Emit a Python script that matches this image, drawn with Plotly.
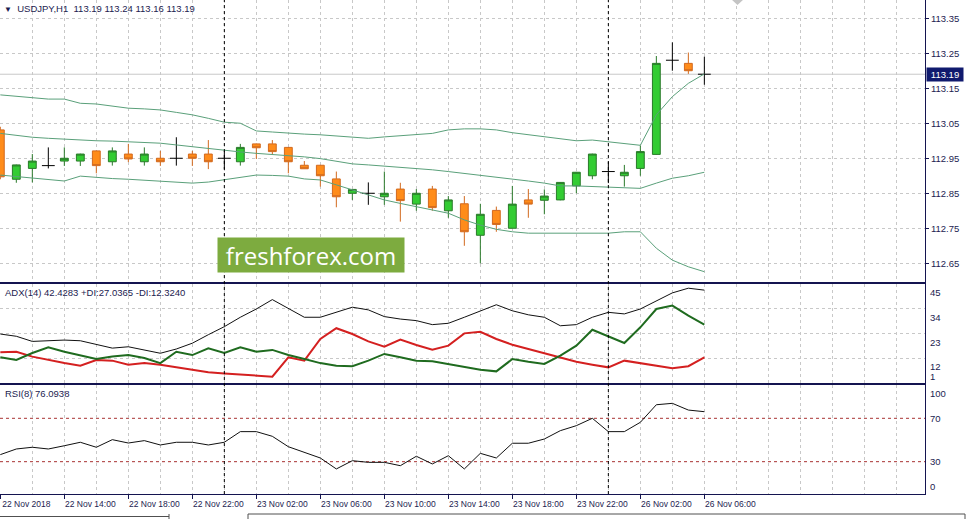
import plotly.graph_objects as go

# ---------------- data ----------------
days = [("22 Nov", 10, 23), ("23 Nov", 0, 23), ("26 Nov", 0, 6)]
bar_time = [f"{d} {h:02d}:00" for d, h0, h1 in days for h in range(h0, h1 + 1)]
bar_day = [d for d, h0, h1 in days for h in range(h0, h1 + 1)]
idx = list(range(len(bar_time)))

opens = [113.031, 112.890, 112.921, 112.929, 112.942, 112.942, 112.971, 112.940, 112.962, 112.940,
         112.950, 112.950, 112.962, 112.962, 112.950, 112.940, 112.991, 112.991, 112.981, 112.930,
         112.930, 112.891, 112.850, 112.850, 112.840, 112.862, 112.819, 112.862, 112.800, 112.820,
         112.730, 112.801, 112.750, 112.831, 112.830, 112.831, 112.871, 112.900, 112.912, 112.900,
         112.921, 112.961, 113.230, 113.221, 113.190]
highs = [113.040, 112.932, 112.962, 112.981, 112.981, 112.963, 112.972, 112.981, 112.991, 112.981,
         112.971, 113.010, 112.971, 113.002, 112.971, 112.991, 112.992, 113.002, 112.982, 112.942,
         112.931, 112.912, 112.862, 112.881, 112.912, 112.880, 112.862, 112.871, 112.842, 112.842,
         112.820, 112.812, 112.871, 112.862, 112.861, 112.882, 112.911, 112.963, 112.940, 112.931,
         112.986, 113.242, 113.281, 113.252, 113.240]
lows = [112.890, 112.880, 112.881, 112.921, 112.928, 112.928, 112.907, 112.929, 112.939, 112.929,
        112.928, 112.929, 112.928, 112.919, 112.919, 112.929, 112.948, 112.962, 112.907, 112.920,
        112.869, 112.810, 112.831, 112.817, 112.817, 112.769, 112.800, 112.800, 112.780, 112.700,
        112.650, 112.740, 112.750, 112.780, 112.790, 112.830, 112.850, 112.890, 112.879, 112.869,
        112.900, 112.960, 113.200, 113.191, 113.160]
closes = [112.897, 112.931, 112.942, 112.929, 112.950, 112.962, 112.929, 112.971, 112.948, 112.962,
          112.940, 112.950, 112.950, 112.940, 112.950, 112.981, 112.980, 112.969, 112.940, 112.920,
          112.900, 112.840, 112.861, 112.850, 112.850, 112.829, 112.850, 112.809, 112.831, 112.740,
          112.790, 112.761, 112.819, 112.819, 112.842, 112.881, 112.910, 112.962, 112.912, 112.910,
          112.969, 113.221, 113.230, 113.200, 113.190]

bb_upper = [113.131, 113.127, 113.121, 113.119, 113.119, 113.107, 113.105, 113.099, 113.093, 113.091,
            113.088, 113.081, 113.074, 113.064, 113.053, 113.050, 113.028, 113.025, 113.021, 113.019,
            113.017, 113.014, 113.010, 113.007, 113.011, 113.015, 113.018, 113.021, 113.031, 113.034,
            113.034, 113.031, 113.023, 113.017, 113.010, 113.005, 113.000, 113.002, 112.997, 112.994,
            112.987, 113.074, 113.126, 113.164, 113.191]
bb_middle = [113.021, 113.015, 113.010, 113.007, 113.004, 113.002, 113.000, 112.999, 112.997, 112.995,
             112.993, 112.988, 112.983, 112.977, 112.971, 112.968, 112.964, 112.961, 112.957, 112.954,
             112.949, 112.942, 112.934, 112.931, 112.928, 112.925, 112.921, 112.917, 112.912, 112.907,
             112.902, 112.897, 112.891, 112.885, 112.879, 112.871, 112.871, 112.869, 112.867, 112.864,
             112.864, 112.879, 112.893, 112.900, 112.910]
bb_lower = [112.902, 112.898, 112.895, 112.889, 112.885, 112.899, 112.895, 112.892, 112.890, 112.887,
            112.883, 112.881, 112.879, 112.882, 112.888, 112.895, 112.902, 112.901, 112.899, 112.891,
            112.888, 112.874, 112.859, 112.845, 112.831, 112.821, 112.812, 112.802, 112.793, 112.774,
            112.759, 112.747, 112.740, 112.736, 112.736, 112.736, 112.736, 112.736, 112.736, 112.740,
            112.740, 112.693, 112.659, 112.640, 112.626]

adx = [22.8, 21.8, 19.5, 19.8, 20.1, 19.8, 18.0, 16.5, 17.1, 15.8, 14.2, 16.1, 18.7, 22.5, 26.1,
       30.3, 34.0, 38.2, 34.3, 30.3, 30.3, 32.5, 34.8, 33.6, 30.6, 29.5, 28.8, 27.0, 27.6, 30.3,
       33.2, 35.9, 33.2, 31.4, 30.3, 26.5, 27.0, 30.3, 32.5, 31.8, 34.0, 37.7, 41.2, 43.3, 42.4283]
plus_di = [12.4, 11.2, 14.3, 16.9, 14.9, 13.1, 11.6, 12.8, 13.4, 12.1, 9.8, 14.9, 13.4, 16.4, 14.3,
           16.9, 14.9, 15.7, 13.4, 11.6, 9.8, 8.6, 8.4, 10.9, 13.9, 12.4, 10.9, 10.6, 9.4, 8.2,
           6.8, 6.1, 11.6, 10.4, 9.4, 13.1, 17.6, 24.7, 21.8, 18.8, 25.8, 34.0, 35.5, 31.0, 27.0365]
minus_di = [14.6, 14.9, 12.7, 11.2, 9.8, 8.6, 11.2, 10.9, 9.1, 9.8, 9.1, 7.9, 6.8, 5.7, 5.2,
            4.6, 4.0, 3.7, 12.4, 10.9, 20.6, 25.4, 22.8, 19.5, 17.1, 20.3, 17.9, 15.8, 17.6, 23.1,
            23.8, 20.6, 18.0, 16.1, 14.2, 12.1, 10.4, 9.1, 7.9, 10.9, 9.8, 8.6, 7.5, 8.4, 12.3240]
rsi = [36.5, 41.7, 43.3, 41.7, 44.7, 47.9, 43.3, 50.3, 47.2, 49.4, 45.4, 47.9, 47.9, 45.4, 47.9,
       57.7, 57.7, 53.4, 43.8, 38.7, 33.4, 23.3, 30.9, 29.4, 29.4, 26.3, 35.0, 27.9, 35.5, 23.3,
       37.7, 33.4, 47.0, 47.0, 50.9, 58.6, 63.2, 70.0, 57.7, 57.7, 66.3, 82.5, 83.8, 77.6, 76.0938]
rsi_levels = [70, 30]

price_ticks = [112.65, 112.75, 112.85, 112.95, 113.05, 113.15, 113.25, 113.35]
adx_grid = [12, 23, 34]
adx_labels = [45, 34, 23, 12, 1]
rsi_labels = [100, 70, 30, 0]
time_tick_idx = [0, 4, 8, 12, 16, 20, 24, 28, 32, 36, 40, 44]
time_tick_labels = ["22 Nov 2018", "22 Nov 14:00", "22 Nov 18:00", "22 Nov 22:00", "23 Nov 02:00",
                    "23 Nov 06:00", "23 Nov 10:00", "23 Nov 14:00", "23 Nov 18:00", "23 Nov 22:00",
                    "26 Nov 02:00", "26 Nov 06:00"]

# ---------------- style ----------------
FONT = "Liberation Sans, Arial, sans-serif"
AXC = "#1c1c50"
FRAME = "#141450"
GRID = "#c8c8c8"
BULL_FILL, BULL_LINE = "#33cc33", "#2a7a2a"
BEAR_FILL, BEAR_LINE = "#ff8c1a", "#d2691e"
BB_COL = "#5aa07a"
NAVY_TAG = "#101a6e"

W, H = 967, 519
R_PX, B_PX = 42, 25
PLOT_W, PLOT_H = W - R_PX, H - B_PX
dom_main = [1 - 281.5 / PLOT_H, 1]
dom_adx = [1 - 383 / PLOT_H, 1 - 283.5 / PLOT_H]
dom_rsi = [0, 1 - 385 / PLOT_H]
XR = [-0.02, 57.79]

fig = go.Figure()

# candles (non-doji)
is_doji = [o == c for o, c in zip(opens, closes)]
fig.add_trace(go.Candlestick(
    x=idx,
    open=[None if d else v for v, d in zip(opens, is_doji)],
    high=[None if d else v for v, d in zip(highs, is_doji)],
    low=[None if d else v for v, d in zip(lows, is_doji)],
    close=[None if d else v for v, d in zip(closes, is_doji)],
    increasing=dict(line=dict(color=BULL_LINE, width=1), fillcolor=BULL_FILL),
    decreasing=dict(line=dict(color=BEAR_LINE, width=1), fillcolor=BEAR_FILL),
    whiskerwidth=0, showlegend=False, hoverinfo="skip", xaxis="x", yaxis="y"))

# doji crosses
dx, dy = [], []
for i, d in enumerate(is_doji):
    if d:
        dx += [i - 0.4, i + 0.4, None, i, i, None]
        dy += [opens[i], opens[i], None, highs[i], lows[i], None]
fig.add_trace(go.Scatter(x=dx, y=dy, mode="lines", line=dict(color="black", width=1),
                         showlegend=False, hoverinfo="skip", xaxis="x", yaxis="y"))

for band in (bb_upper, bb_middle, bb_lower):
    fig.add_trace(go.Scatter(x=idx, y=band, mode="lines", line=dict(color=BB_COL, width=1),
                             showlegend=False, hoverinfo="skip", xaxis="x", yaxis="y"))

# ADX panel
fig.add_trace(go.Scatter(x=idx, y=adx, mode="lines", line=dict(color="#101010", width=1),
                         showlegend=False, hoverinfo="skip", xaxis="x2", yaxis="y2"))
fig.add_trace(go.Scatter(x=idx, y=minus_di, mode="lines", line=dict(color="#d42020", width=2),
                         showlegend=False, hoverinfo="skip", xaxis="x2", yaxis="y2"))
fig.add_trace(go.Scatter(x=idx, y=plus_di, mode="lines", line=dict(color="#1f6b1f", width=2),
                         showlegend=False, hoverinfo="skip", xaxis="x2", yaxis="y2"))

# RSI panel
fig.add_trace(go.Scatter(x=idx, y=rsi, mode="lines", line=dict(color="#101010", width=1),
                         showlegend=False, hoverinfo="skip", xaxis="x3", yaxis="y3"))

shapes = []
for lv in rsi_levels:
    shapes.append(dict(type="line", xref="x3 domain", x0=0, x1=1, yref="y3", y0=lv, y1=lv,
                       line=dict(color="#a83232", width=1, dash="3px,3px"), layer="below"))
# current price line
shapes.append(dict(type="line", xref="x domain", x0=0, x1=1, yref="y", y0=closes[-1], y1=closes[-1],
                   line=dict(color="#c8c8c8", width=1), layer="below"))
# day separators
for i in range(1, len(bar_day)):
    if bar_day[i] != bar_day[i - 1]:
        shapes.append(dict(type="line", xref="x", x0=i, x1=i, yref="paper", y0=0, y1=1,
                           line=dict(color="black", width=1, dash="3px,3px")))


def px_x(p):
    return p / PLOT_W


def px_y(p):
    return (PLOT_H - p) / PLOT_H


# bottom tab strip
for (x0, y0, x1, y1) in [(0, 516.5, 169, 516.5), (169, 514, 169, 519), (248, 514, 248, 519),
                         (248, 514, 965, 514), (965, 514, 965, 519)]:
    shapes.append(dict(type="line", xref="paper", yref="paper", x0=px_x(x0), x1=px_x(x1),
                       y0=px_y(y0), y1=px_y(y1), line=dict(color="#505050", width=1)))
# chart-shift marker at the top
shapes.append(dict(type="path", xref="paper", yref="paper",
                   path=f"M {px_x(731)} {px_y(-1)} L {px_x(744)} {px_y(-1)} L {px_x(737.5)} {px_y(5)} Z",
                   fillcolor="#c4c4c4", line=dict(width=0)))

fnt = dict(family=FONT, size=9.5, color=AXC)
ann = []
ohlc_txt = f"{opens[-1]:.2f} {highs[-1]:.2f} {lows[-1]:.2f} {closes[-1]:.2f}"
ann.append(dict(xref="paper", yref="paper", x=0, y=1, xanchor="left", yanchor="top", xshift=2, yshift=-1,
                text=f"<span style='font-size:8px'>▼</span>\u00a0\u00a0USDJPY,H1\u00a0\u00a0{ohlc_txt}",
                showarrow=False, font=fnt))
ann.append(dict(xref="paper", yref="paper", x=0, y=dom_adx[1], xanchor="left", yanchor="top", xshift=3,
                yshift=-1,
                text=f"ADX(14) {adx[-1]:.4f} +DI:{plus_di[-1]:.4f} -DI:{minus_di[-1]:.4f}",
                showarrow=False, font=fnt))
ann.append(dict(xref="paper", yref="paper", x=0, y=dom_rsi[1], xanchor="left", yanchor="top", xshift=3,
                yshift=-1, text=f"RSI(8) {rsi[-1]:.4f}", showarrow=False, font=fnt))
for v in adx_labels:
    lowest = v == min(adx_labels)
    ann.append(dict(xref="paper", yref="y2", x=1, y=v, xanchor="left",
                    yanchor="bottom" if lowest else "top",
                    xshift=4, yshift=0 if lowest else -2, borderpad=0,
                    text=str(v), showarrow=False, font=fnt))
for v in rsi_labels:
    if v == max(rsi_labels):
        ann.append(dict(xref="paper", yref="y3", x=1, y=v, xanchor="left", yanchor="top", xshift=4,
                        yshift=-1, borderpad=0, text=str(v), showarrow=False, font=fnt))
    elif v == min(rsi_labels):
        ann.append(dict(xref="paper", yref="y3 domain", x=1, y=0, xanchor="left", yanchor="bottom",
                        xshift=4, yshift=1, borderpad=0, text=str(v), showarrow=False, font=fnt))
    else:
        ann.append(dict(xref="paper", yref="y3", x=1, y=v, xanchor="left", yanchor="middle", xshift=4,
                        borderpad=0, text=str(v), showarrow=False, font=fnt))
ann.append(dict(xref="paper", yref="y", x=1, y=closes[-1], xanchor="left", yanchor="middle", xshift=1,
                text=f"{closes[-1]:.2f}", showarrow=False, bgcolor=NAVY_TAG, borderpad=1, width=34,
                font=dict(family=FONT, size=9.5, color="white")))
ann.append(dict(xref="paper", yref="paper", x=311 / PLOT_W, y=1 - 255 / PLOT_H, xanchor="center",
                yanchor="middle", text="freshforex.com", showarrow=False, bgcolor="#7dab3f",
                width=186, height=34, borderpad=0, font=dict(family="Open Sans", size=24, color="white")))

grid_x = dict(showgrid=True, gridcolor=GRID, griddash="3px,3px", gridwidth=1, zeroline=False)

fig.update_layout(
    width=W, height=H, margin=dict(l=0, r=R_PX, t=0, b=B_PX, autoexpand=False),
    paper_bgcolor="white", plot_bgcolor="white", showlegend=False,
    font=fnt,
    xaxis=dict(domain=[0, 1], anchor="y", range=XR, tick0=0, dtick=2, showticklabels=False, ticks="",
               showline=True, linecolor=FRAME, linewidth=1, rangeslider=dict(visible=False), **grid_x),
    xaxis2=dict(domain=[0, 1], anchor="y2", matches="x", range=XR, tick0=0, dtick=2, showticklabels=False,
                ticks="", showline=True, mirror=True, linecolor=FRAME, linewidth=1, **grid_x),
    xaxis3=dict(domain=[0, 1], anchor="y3", matches="x", range=XR, tickmode="array",
                tickvals=time_tick_idx, ticktext=time_tick_labels, ticks="outside", ticklen=4,
                tickcolor=FRAME, ticklabelshift=26, ticklabelstandoff=-2, ticklabeloverflow="allow",
                automargin=False, showline=True, mirror=True, linecolor=FRAME,
                linewidth=1, showgrid=False, zeroline=False,
                tickfont=dict(family=FONT, size=8.5, color=AXC),
                minor=dict(tickmode="linear", tick0=0, dtick=2, showgrid=True, gridcolor=GRID,
                           griddash="3px,3px", ticks="")),
    yaxis=dict(domain=dom_main, anchor="x", side="right", range=[112.598, 113.402], tickmode="array",
               tickvals=price_ticks, ticktext=[f"{v:.2f}" for v in price_ticks], ticks="outside",
               ticklen=3, tickcolor=FRAME, showline=True, linecolor=FRAME, linewidth=1, automargin=False,
               showgrid=True, gridcolor=GRID, griddash="3px,3px", zeroline=False, tickfont=fnt),
    yaxis2=dict(domain=dom_adx, anchor="x2", side="right", range=[0.9, 45.4], tickmode="array",
                tickvals=adx_grid, showticklabels=False, ticks="", showline=True, linecolor=FRAME,
                linewidth=1, showgrid=True, gridcolor=GRID, griddash="3px,3px", zeroline=False),
    yaxis3=dict(domain=dom_rsi, anchor="x3", side="right", range=[0.2, 100.7], showticklabels=False,
                ticks="", showline=True, linecolor=FRAME, linewidth=1, showgrid=False, zeroline=False),
    shapes=shapes, annotations=ann,
)

fig.write_html("out.html", config={"displayModeBar": False},
               post_script="document.body.style.margin='0';document.body.style.overflow='hidden';")
